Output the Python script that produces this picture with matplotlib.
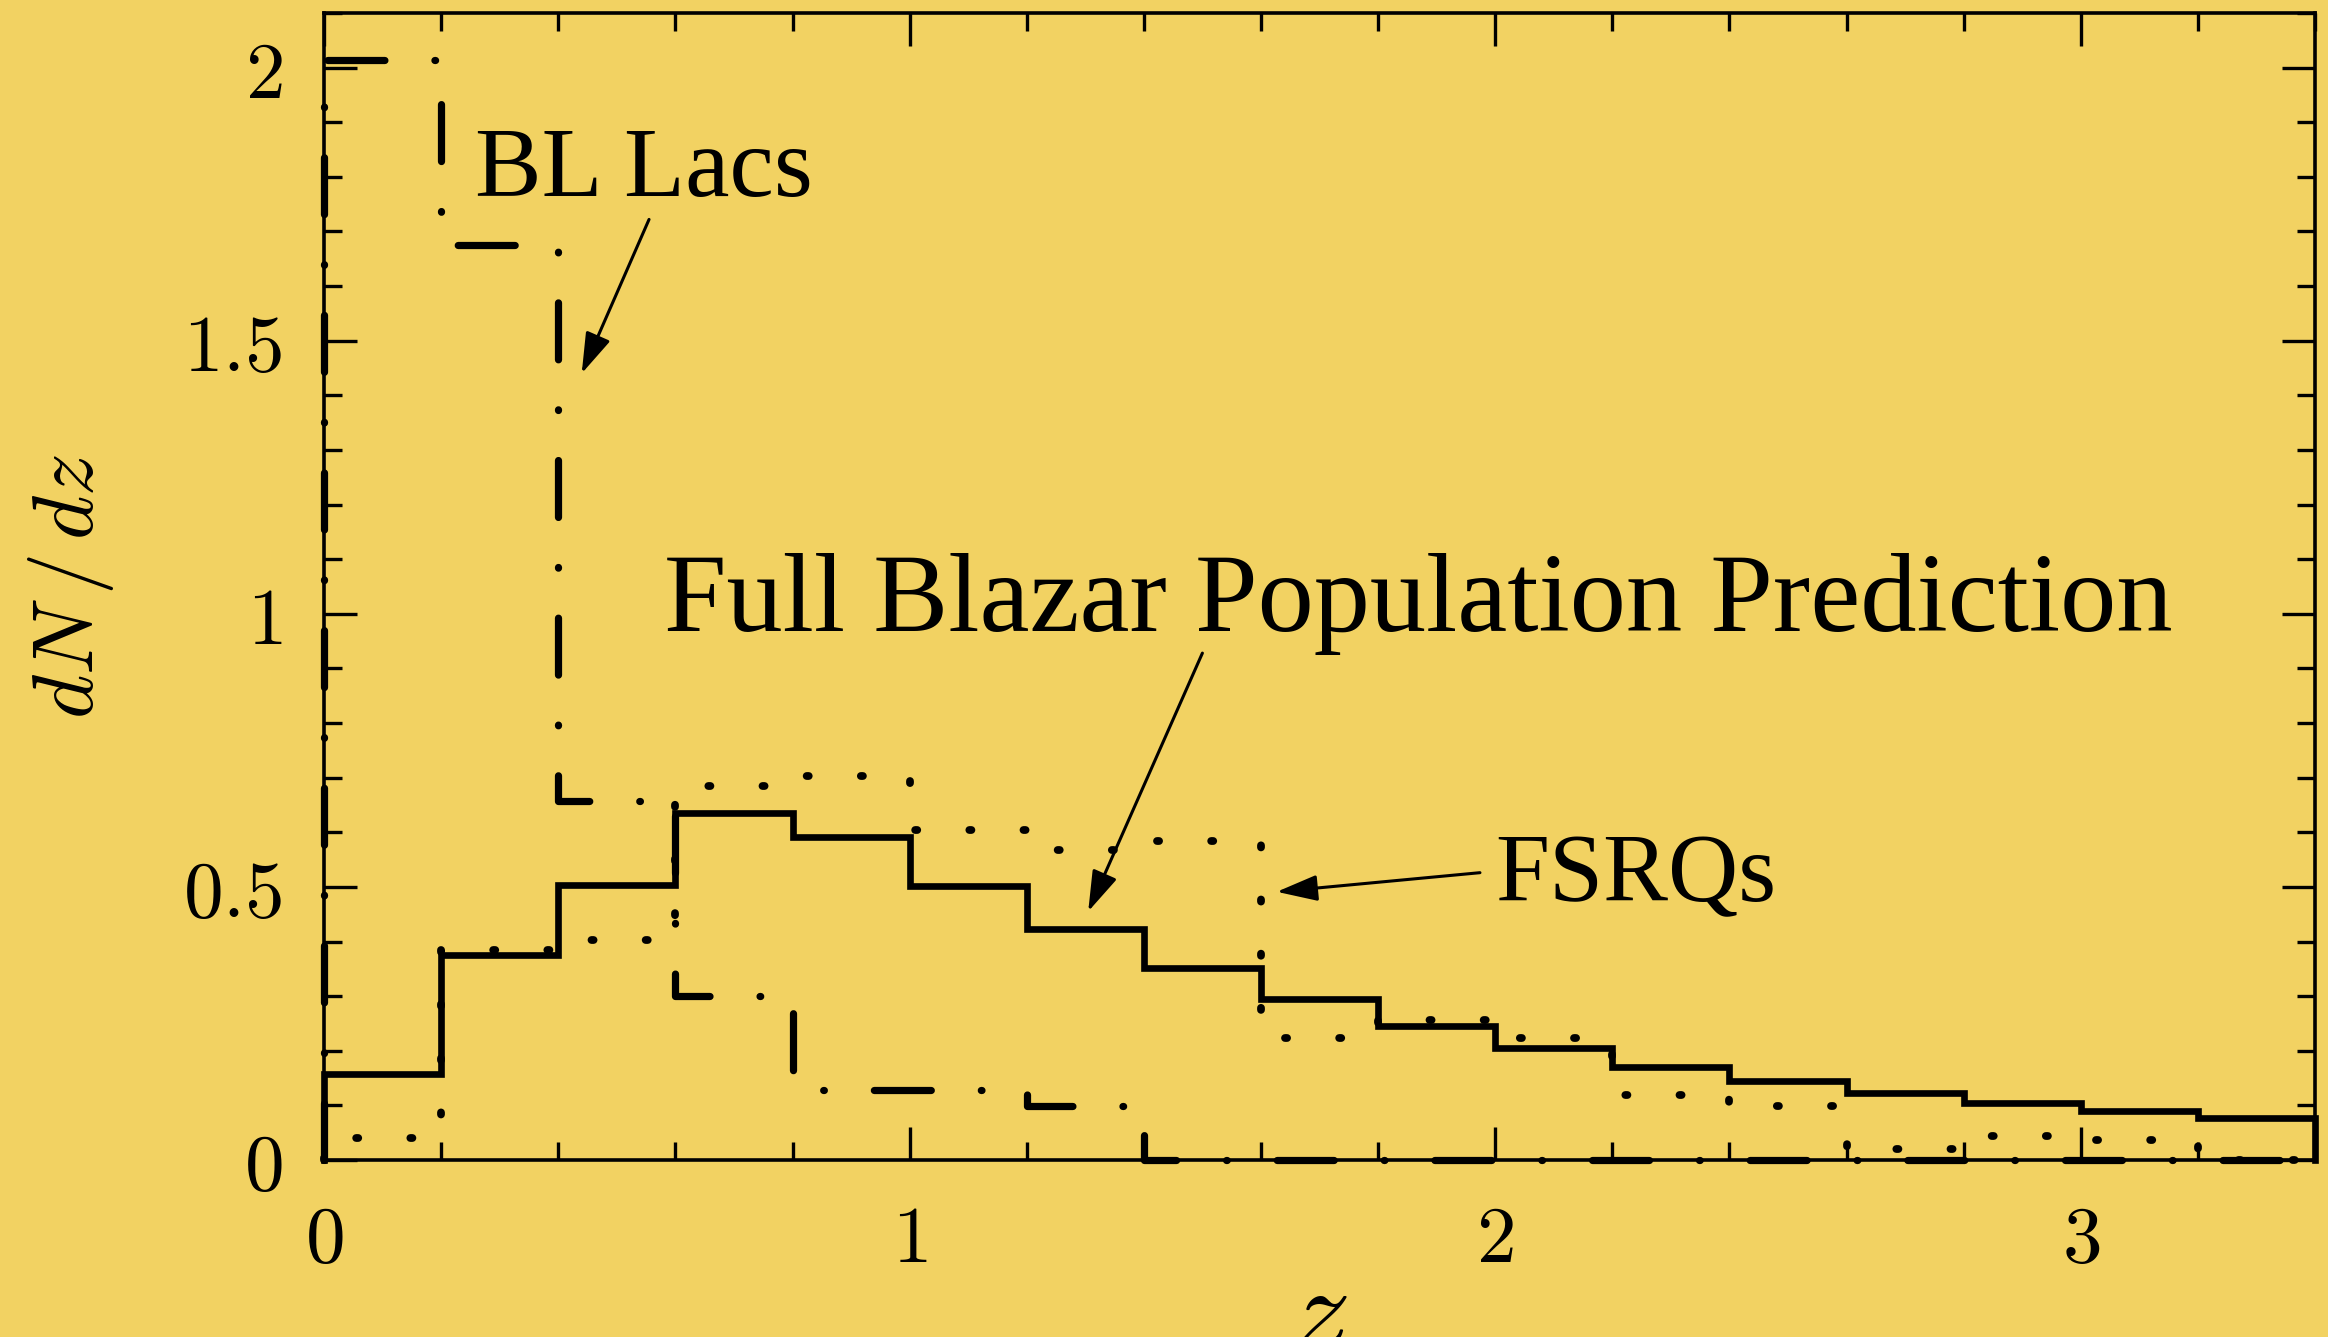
"""
Redshift distribution dN/dz of the predicted blazar population, with the
BL Lac and FSRQ components drawn as step histograms (bin width 0.2).
"""

import matplotlib

matplotlib.use("Agg")
import matplotlib.pyplot as plt
import numpy as np
from matplotlib.ticker import FuncFormatter, MultipleLocator

# bin edges in redshift
z_edges = np.round(np.arange(0.0, 3.41, 0.2), 1)

# full blazar population prediction (solid)
full_dndz = [0.158, 0.376, 0.504, 0.635, 0.591, 0.501, 0.422, 0.352, 0.294,
             0.246, 0.205, 0.171, 0.145, 0.123, 0.105, 0.090, 0.077]

# FSRQs (dotted)
fsrq_dndz = [0.040, 0.385, 0.402, 0.684, 0.703, 0.605, 0.567, 0.584, 0.224,
             0.257, 0.224, 0.119, 0.099, 0.020, 0.044, 0.037, 0.0]

# BL Lacs (dash-dot)
bllac_dndz = [2.013, 1.675, 0.657, 0.301, 0.128, 0.128, 0.099, 0.0, 0.0,
              0.0, 0.0, 0.0, 0.0, 0.0, 0.0, 0.0, 0.0]

BG = "#F2D262"

plt.rcParams["mathtext.fontset"] = "cm"
plt.rcParams["lines.scale_dashes"] = False


def step_outline(edges, values):
    """Histogram outline that starts and ends on the zero line."""
    xs = np.repeat(edges, 2)
    ys = np.concatenate([[0.0], np.repeat(values, 2), [0.0]])
    return xs, ys


fig = plt.figure(figsize=(23.28, 13.37), dpi=100, facecolor=BG)
ax = fig.add_axes([0.1392, 0.1324, 0.8552, 0.8579], facecolor=BG)

ax.plot(*step_outline(z_edges, full_dndz), color="black", lw=4.8,
        solid_joinstyle="miter", clip_on=False, zorder=3)
ax.plot(*step_outline(z_edges, fsrq_dndz), color="black", lw=5.6,
        dashes=(1.5, 37.5), dash_capstyle="round", clip_on=False, zorder=2)
ax.plot(*step_outline(z_edges, bllac_dndz), color="black", lw=5.2,
        dashes=(41, 36, 0.5, 36), dash_capstyle="round", clip_on=False,
        zorder=2)

ax.set_xlim(0, 3.4)
ax.set_ylim(0, 2.1)

ax.xaxis.set_major_locator(MultipleLocator(1))
ax.xaxis.set_minor_locator(MultipleLocator(0.2))
ax.yaxis.set_major_locator(MultipleLocator(0.5))
ax.yaxis.set_minor_locator(MultipleLocator(0.1))

tick_fmt = FuncFormatter(lambda v, pos: f"${v:g}$")
ax.xaxis.set_major_formatter(tick_fmt)
ax.yaxis.set_major_formatter(tick_fmt)

ax.tick_params(which="both", direction="in", top=True, right=True,
               width=2.4, color="black")
ax.tick_params(which="major", length=24, labelsize=57, pad=30)
ax.tick_params(which="minor", length=13)
for side in ax.spines.values():
    side.set_linewidth(2.6)

ax.set_xlabel(r"$z$", fontsize=84, va="center")
ax.xaxis.set_label_coords(0.5, -0.136)
ax.set_ylabel(r"$dN\,/\,dz$", fontsize=61, va="center")
ax.yaxis.set_label_coords(-0.127, 0.500)

# labels with pointer arrows
arrow = dict(arrowstyle="-|>,head_length=0.5,head_width=0.16",
             color="black", lw=2.2, mutation_scale=50, shrinkA=0, shrinkB=0)
label_font = dict(family="Liberation Serif", color="black")

ax.text(0.258, 1.764, "BL Lacs", fontsize=72, ha="left", va="baseline",
        **label_font)
ax.annotate("", xy=(0.440, 1.440), xytext=(0.555, 1.722),
            arrowprops=arrow)

ax.text(0.580, 0.969, "Full Blazar Population Prediction", fontsize=81,
        ha="left", va="baseline", **label_font)
ax.annotate("", xy=(1.305, 0.455), xytext=(1.500, 0.928),
            arrowprops=arrow)

ax.text(2.0, 0.474, "FSRQs", fontsize=70, ha="left", va="baseline",
        **label_font)
ax.annotate("", xy=(1.627, 0.491), xytext=(1.974, 0.526),
            arrowprops=arrow)

fig.savefig("out.png", dpi=100, facecolor=BG)
